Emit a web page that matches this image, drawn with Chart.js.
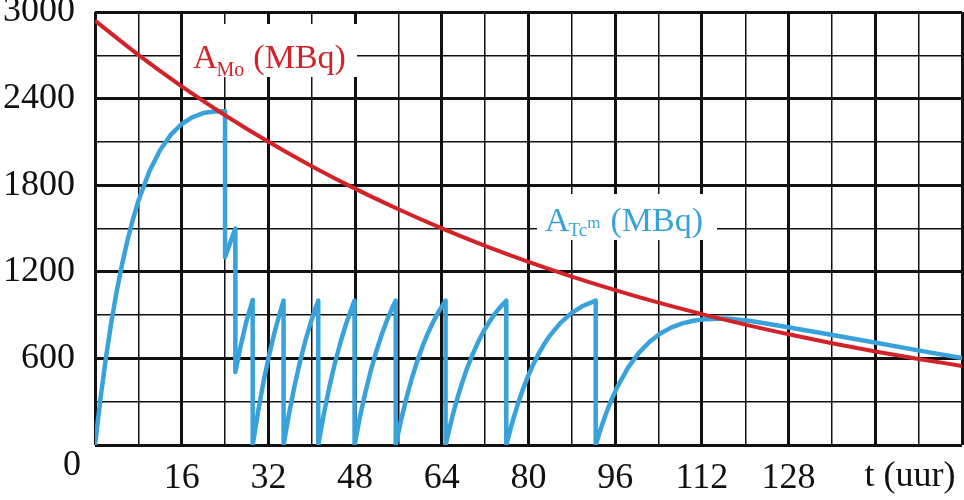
<!DOCTYPE html>
<html>
<head>
<meta charset="utf-8">
<script src="https://cdn.jsdelivr.net/npm/chart.js@4"></script>
<style>
  html, body { margin: 0; padding: 0; background: #fff; }
  #wrap { width: 964px; height: 500px; }
</style>
</head>
<body>
<div id="wrap"><canvas id="chart" width="964" height="500"></canvas></div>
<script>
// tijd (uur) en activiteit (MBq)
const moT = [0, 8, 16, 24, 32, 40, 48, 56, 64, 72, 80, 88, 96, 104, 112, 120, 128, 136, 144, 152, 160];
const moA = [2940, 2703, 2485, 2285, 2101, 1932, 1776, 1633, 1501, 1380, 1269, 1167, 1073, 986, 907, 834, 767, 705, 648, 596, 548];

const tcT = [0, 1, 2, 3, 4, 5, 6, 7, 8, 10, 12, 14, 16, 18, 20, 22, 24,
  24, 25, 25.9,
  25.9, 26.9, 27.9, 29.1,
  29.1, 30.1, 31.1, 32.1, 33.1, 34.1, 34.8,
  34.8, 35.8, 36.8, 37.8, 38.8, 39.8, 40.8, 41.2,
  41.2, 42.2, 43.2, 44.2, 45.2, 46.2, 47.2, 47.9,
  47.9, 48.9, 49.9, 50.9, 51.9, 52.9, 53.9, 54.9, 55.5,
  55.5, 56.5, 57.5, 58.5, 59.5, 60.5, 61.5, 62.5, 63.5, 64.7,
  64.7, 65.7, 66.7, 67.7, 68.7, 69.7, 70.7, 71.7, 72.7, 73.7, 74.7, 75.9,
  75.9, 76.9, 77.9, 78.9, 79.9, 80.9, 81.9, 82.9, 83.9, 85.9, 87.9, 89.9, 92.4,
  92.4, 93.4, 94.4, 95.4, 96.4, 98.4, 100.4, 102.4, 104.4, 106.4, 108.4, 110.4, 112.4,
  116.4, 120.4, 124.4, 128.4, 136.4, 144.4, 152.4, 160];
const tcA = [0, 319, 600, 847, 1064, 1253, 1419, 1564, 1690, 1893, 2042, 2150, 2224, 2272, 2300, 2311, 2312,
  1300, 1406, 1500,
  506, 690, 850, 1005,
  0, 233, 438, 617, 776, 913, 1000,
  0, 215, 405, 572, 719, 846, 959, 1000,
  0, 209, 394, 556, 698, 823, 932, 1000,
  0, 195, 366, 516, 648, 764, 865, 954, 1000,
  0, 175, 330, 466, 585, 690, 780, 860, 929, 1000,
  0, 161, 302, 426, 535, 630, 713, 787, 849, 905, 952, 1000,
  0, 143, 268, 379, 475, 560, 634, 699, 756, 846, 914, 961, 1000,
  0, 121, 227, 321, 403, 538, 640, 717, 774, 815, 843, 861, 871,
  876, 862, 838, 813, 760, 707, 652, 603];

const xTickLabels = [16, 32, 48, 64, 80, 96, 112, 128];
const yTickLabels = [600, 1200, 1800, 2400, 3000];

const RED = '#d42229';
const BLUE = '#3aa2da';
const FONT = '"Liberation Serif", "DejaVu Serif", serif';

function pts(xs, ys) {
  return xs.map((x, i) => ({ x: x, y: ys[i] }));
}

// stukjes tekst achter elkaar: [tekst, grootte, baseline-verschuiving]
function drawParts(ctx, x, y, parts) {
  parts.forEach(p => {
    ctx.font = p[1] + 'px ' + FONT;
    ctx.fillText(p[0], x, y + p[2]);
    x += ctx.measureText(p[0]).width + (p[3] || 0);
  });
}

const labels = {
  id: 'labels',
  afterDatasetsDraw(chart) {
    const ctx = chart.ctx;
    ctx.save();
    ctx.textBaseline = 'alphabetic';
    ctx.textAlign = 'left';

    // A_Mo (MBq)
    ctx.fillStyle = '#fff';
    ctx.fillRect(183, 24, 174, 53);
    ctx.fillStyle = RED;
    drawParts(ctx, 193, 68, [['A', 34, 0, -1], ['Mo', 20, 8, 9], ['(MBq)', 34, 0]]);

    // A_Tc^m (MBq)
    ctx.fillStyle = '#fff';
    ctx.fillRect(537, 194, 180, 46);
    ctx.fillStyle = BLUE;
    drawParts(ctx, 545, 231, [['A', 34, 0, -1], ['Tc', 19, 5, 0], ['m', 17, -3, 10], ['(MBq)', 34, 0]]);

    // 0 in de hoek en aslabel
    ctx.fillStyle = '#111';
    ctx.font = '36px ' + FONT;
    ctx.textAlign = 'center';
    ctx.textBaseline = 'middle';
    ctx.fillText('0', 72, 466);
    ctx.fillText('t (uur)', 910, 477);
    ctx.restore();
  }
};

new Chart(document.getElementById('chart'), {
  type: 'line',
  data: {
    datasets: [
      {
        label: 'A Mo',
        data: pts(moT, moA),
        borderColor: RED,
        borderWidth: 4,
        pointRadius: 0,
        cubicInterpolationMode: 'monotone',
        fill: false
      },
      {
        label: 'A Tc',
        data: pts(tcT, tcA),
        borderColor: BLUE,
        borderWidth: 4.5,
        pointRadius: 0,
        tension: 0,
        borderJoinStyle: 'round',
        fill: false
      }
    ]
  },
  options: {
    responsive: false,
    animation: false,
    layout: { padding: { top: 12, right: 2, left: 0, bottom: 0 } },
    plugins: { legend: { display: false }, tooltip: { enabled: false } },
    scales: {
      x: {
        type: 'linear',
        min: 0,
        max: 160,
        afterFit(scale) {
          scale.height = 55;
          scale.paddingLeft = 0;
          scale.paddingRight = 0;
        },
        border: { display: false },
        grid: {
          color: '#111',
          drawTicks: false,
          lineWidth: (c) => (c.tick && c.tick.value % 16 === 0) ? 3 : 1.5
        },
        ticks: {
          stepSize: 8,
          autoSkip: false,
          maxRotation: 0,
          padding: 12,
          color: '#111',
          font: { family: FONT, size: 36 },
          callback: (v) => xTickLabels.includes(v) ? String(v) : ''
        }
      },
      y: {
        min: 0,
        max: 3000,
        afterFit(scale) {
          scale.width = 95;
          scale.paddingTop = 0;
          scale.paddingBottom = 0;
        },
        border: { display: false },
        grid: {
          color: '#111',
          drawTicks: false,
          lineWidth: (c) => (c.tick && c.tick.value % 600 === 0) ? 3 : 1.5
        },
        ticks: {
          stepSize: 300,
          autoSkip: false,
          padding: 20,
          color: '#111',
          font: { family: FONT, size: 36 },
          callback: (v) => yTickLabels.includes(v) ? String(v) : ''
        }
      }
    }
  },
  plugins: [labels]
});
</script>
</body>
</html>
